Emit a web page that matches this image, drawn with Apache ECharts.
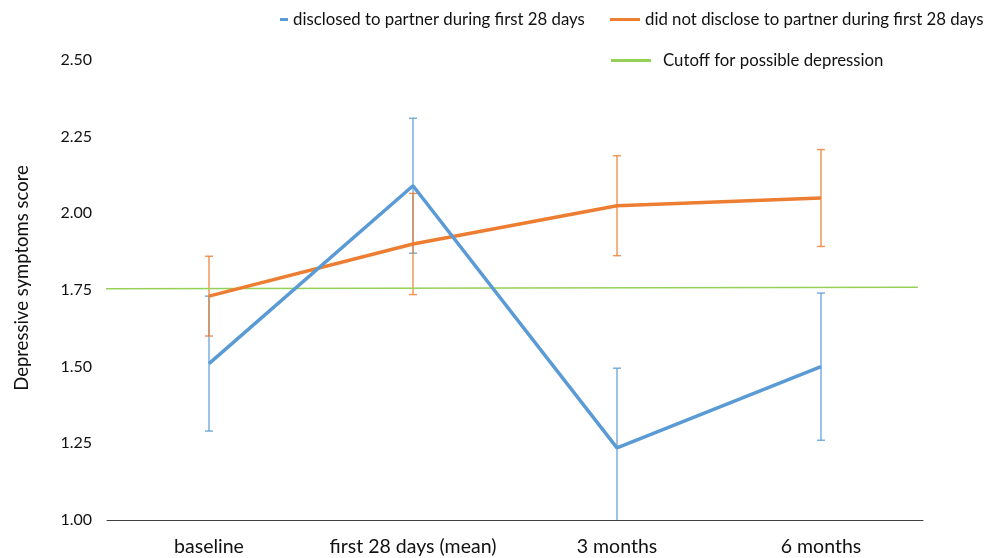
<!DOCTYPE html>
<html>
<head>
<meta charset="utf-8">
<script src="https://cdn.jsdelivr.net/npm/echarts@6/dist/echarts.min.js"></script>
<style>
  html, body { margin: 0; padding: 0; background: #fff; }
  #chart { width: 985px; height: 558px; }
</style>
</head>
<body>
<div id="chart"></div>
<script>
// Time points
const categories = ['baseline', 'first 28 days (mean)', '3 months', '6 months'];

// Mean depressive symptoms score and error half-widths per group
const disclosed = [1.51, 2.09, 1.235, 1.50];
const disclosedErr = [0.22, 0.22, 0.26, 0.24];
const notDisclosed = [1.73, 1.90, 2.025, 2.05];
const notDisclosedErr = [0.13, 0.165, 0.163, 0.158];

// Cutoff line end points: [position along time axis, score]
const cutoffStart = [-0.51, 1.754];
const cutoffEnd = [3.475, 1.759];

// Y axis ticks
const yMin = 1.0, yMax = 2.5, yStep = 0.25;

const yTitle = 'Depressive symptoms score';
const names = {
  disclosed: 'disclosed to partner during first 28 days',
  notDisclosed: 'did not disclose to partner during first 28 days',
  cutoff: 'Cutoff for possible depression'
};

const BLUE = '#5B9BD5';
const ORANGE = '#ED7D31';
const GREEN = '#96D057';
const FONT = 'Lato';
const TEXT = '#111';

function errorSeries(means, errs, color) {
  const data = means.map((m, i) => [i, m - errs[i], m + errs[i]]);
  return {
    type: 'custom',
    clip: true,
    z: 1,
    silent: true,
    data: data,
    encode: { x: 0, y: [1, 2] },
    renderItem: function (params, api) {
      const i = api.value(0);
      const lo = api.coord([i, api.value(1)]);
      const hi = api.coord([i, api.value(2)]);
      const cap = 4;
      const style = { stroke: color, lineWidth: 1.5, opacity: 0.8 };
      return {
        type: 'group',
        children: [
          { type: 'line', shape: { x1: lo[0], y1: lo[1], x2: hi[0], y2: hi[1] }, style: style },
          { type: 'line', shape: { x1: hi[0] - cap, y1: hi[1], x2: hi[0] + cap, y2: hi[1] }, style: style },
          { type: 'line', shape: { x1: lo[0] - cap, y1: lo[1], x2: lo[0] + cap, y2: lo[1] }, style: style }
        ]
      };
    }
  };
}

const chart = echarts.init(document.getElementById('chart'), null, { renderer: 'canvas' });

const legendText = { fontFamily: FONT, fontSize: 16.8, color: TEXT };

chart.setOption({
  animation: false,
  backgroundColor: '#fff',
  textStyle: { fontFamily: FONT },
  grid: { left: 107, right: 62, top: 60, bottom: 38, containLabel: false },
  graphic: [
    {
      type: 'text',
      x: 22, y: 278,
      rotation: Math.PI / 2,
      style: {
        text: yTitle,
        font: '18.5px ' + FONT,
        fill: TEXT,
        align: 'center',
        verticalAlign: 'middle'
      }
    }
  ],
  legend: [
    {
      data: [{ name: names.disclosed }],
      left: 280, top: 11, padding: 0,
      icon: 'rect', itemWidth: 8, itemHeight: 3,
      itemStyle: { color: BLUE },
      textStyle: legendText, selectedMode: false
    },
    {
      data: [{ name: names.notDisclosed }],
      left: 610, top: 11, padding: 0,
      icon: 'rect', itemWidth: 30, itemHeight: 3,
      itemStyle: { color: ORANGE },
      textStyle: legendText, selectedMode: false
    },
    {
      data: [{ name: names.cutoff }],
      left: 611, top: 52, padding: 0,
      icon: 'rect', itemWidth: 40, itemHeight: 3,
      itemStyle: { color: GREEN },
      textStyle: Object.assign({}, legendText, { padding: [0, 0, 0, 7] }),
      selectedMode: false
    }
  ],
  xAxis: [
    {
      type: 'category',
      data: categories,
      boundaryGap: true,
      axisLine: { lineStyle: { color: '#404040', width: 1 } },
      axisTick: { show: false },
      axisLabel: { fontFamily: FONT, fontSize: 19.5, color: TEXT, margin: 17, interval: 0 },
      splitLine: { show: false }
    },
    {
      type: 'value',
      min: -0.5, max: 3.5,
      show: false
    }
  ],
  yAxis: {
    type: 'value',
    min: yMin, max: yMax, interval: yStep,
    axisLine: { show: false },
    axisTick: { show: false },
    splitLine: { show: false },
    axisLabel: {
      fontFamily: FONT, fontSize: 16, color: TEXT, margin: 15,
      formatter: v => v.toFixed(2)
    }
  },
  series: [
    errorSeries(disclosed, disclosedErr, BLUE),
    errorSeries(notDisclosed, notDisclosedErr, ORANGE),
    {
      name: names.cutoff,
      type: 'line',
      xAxisIndex: 1,
      data: [cutoffStart, cutoffEnd],
      symbol: 'none',
      z: 2,
      lineStyle: { color: GREEN, width: 1.5 },
      itemStyle: { color: GREEN }
    },
    {
      name: names.notDisclosed,
      type: 'line',
      data: notDisclosed,
      symbol: 'none',
      z: 3,
      lineStyle: { color: ORANGE, width: 3.5 },
      itemStyle: { color: ORANGE }
    },
    {
      name: names.disclosed,
      type: 'line',
      data: disclosed,
      symbol: 'none',
      z: 4,
      lineStyle: { color: BLUE, width: 3.5 },
      itemStyle: { color: BLUE }
    }
  ]
});
</script>
</body>
</html>
